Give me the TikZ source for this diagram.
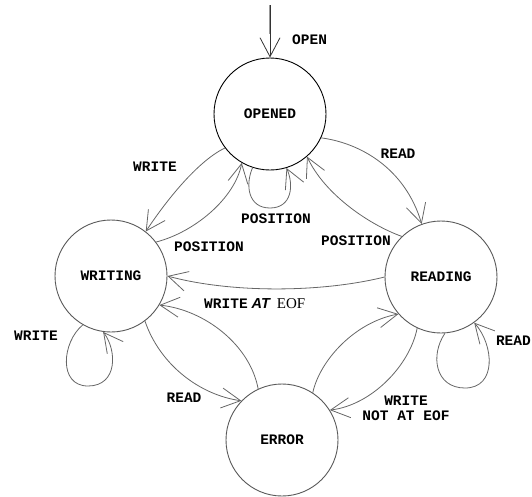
\documentclass[tikz,border=0pt]{standalone}
\usepackage{fontspec}
\newfontfamily\monofam{Liberation Mono}
\newfontfamily\seriffam{Liberation Serif}
\newfontfamily\sansfam{Liberation Sans}
\usetikzlibrary{arrows.meta}
\newcommand{\lblfont}{\monofam\bfseries\fontsize{14.5}{15}\selectfont}
\begin{document}
\begin{tikzpicture}[x=1pt,y=-1pt,
  state/.style={circle,draw=black!65,line width=0.9pt,minimum size=112pt,inner sep=0pt,font=\lblfont},
  tr/.style={draw=black!60,line width=0.8pt,-{Straight Barb[length=19pt,width=20pt,line width=0.8pt]}},
  lbl/.style={font=\lblfont,inner sep=0pt}]
\useasboundingbox (0,0) rectangle (532,496);
\node[state,draw=black] (o) at (270,114) {OPENED};
\node[state] (w) at (111,276) {WRITING};
\node[state] (r) at (441,277) {READING};
\node[state] (e) at (282,440) {ERROR};
% initial arrow
\coordinate (s0) at (270,5);
\coordinate (s1) at (270,34);
\draw[black!40,line width=2.6pt] (s0) -- (s1);
\draw[tr,draw=black!80] (s0) -- (o.north);
\node[lbl,anchor=west] (lopen) at (292,40) {OPEN};
% transitions
\draw[tr] (o.217) .. controls (200,160) and (170,195) .. (w.52);
\draw[tr] (w.37) .. controls (195,232) and (235,198) .. (o.240);
\draw[tr] (o.252) .. controls (245,185) and (248,208) .. (270,208) .. controls (292,208) and (294,185) .. (o.287);
\draw[tr] (r.134) .. controls (370,225) and (325,195) .. (o.311);
\draw[tr] (o.335) .. controls (360,143) and (405,168) .. (r.110);
\draw[tr] (r.180) .. controls (320,293) and (230,293) .. (w.0);
\draw[tr] (w.240) .. controls (62,342) and (58,386) .. (88,386) .. controls (118,386) and (117,350) .. (w.262);
\draw[tr] (w.307) .. controls (160,365) and (200,395) .. (e.136);
\draw[tr] (e.115) .. controls (250,345) and (205,310) .. (w.329);
\draw[tr] (e.57) .. controls (320,360) and (355,322) .. (r.221);
\draw[tr] (r.245) .. controls (410,365) and (372,405) .. (e.32);
\draw[tr] (r.274) .. controls (430,355) and (435,388) .. (465,388) .. controls (497,388) and (494,345) .. (r.306);
% labels
\node[lbl] (l1) at (155,167) {WRITE};
\node[lbl] (l2) at (398,154) {READ};
\node[lbl] (l3) at (276,219) {POSITION};
\node[lbl] (l4) at (209,247) {POSITION};
\node[lbl] (l5) at (356,241) {POSITION};
\node[lbl,anchor=west] (l6) at (204,304) {WRITE\hspace{4pt}{\sansfam\bfseries\itshape AT}\hspace{7pt}{\seriffam\mdseries\upshape\fontsize{15}{15}\selectfont EOF}};
\node[lbl] (l7) at (36,336) {WRITE};
\node[lbl,anchor=east] (l8) at (531,341) {READ};
\node[lbl] (l9) at (184,398) {READ};
\node[lbl,align=center] (l10) at (406,408) {WRITE\\NOT AT EOF};
\end{tikzpicture}
\end{document}
